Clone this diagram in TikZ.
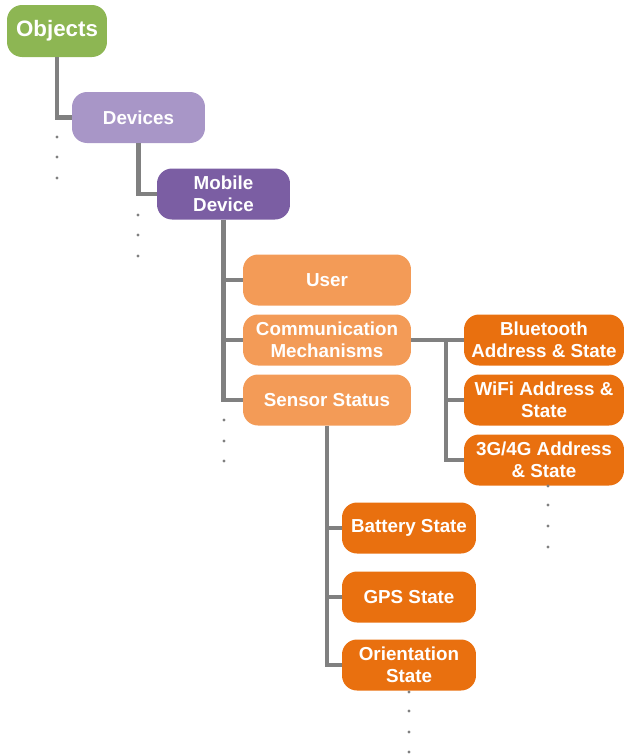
\documentclass[tikz,border=0pt]{standalone}
\usepackage{fontspec}
\setmainfont{Liberation Sans}

\definecolor{objgreen}{HTML}{8DB653}
\definecolor{devlilac}{HTML}{A896C7}
\definecolor{mobpurple}{HTML}{7B5EA3}
\definecolor{lightorange}{HTML}{F39B57}
\definecolor{darkorange}{HTML}{E9700F}
\definecolor{linegray}{HTML}{808080}

\begin{document}
\begin{tikzpicture}[x=0.02cm, y=-0.02cm,
  box/.style={rounded corners=0.3cm, text=white, align=center, inner sep=0pt,
    minimum height=1.02cm, font=\bfseries\fontsize{10.7}{12.8}\selectfont},
  link/.style={draw=linegray, line width=2.3pt},
  more/.style={fill=linegray}]

\useasboundingbox (0,0) rectangle (623,755);

% An object hierarchy

\node [box, fill=objgreen, minimum width=2cm, minimum height=1.04cm,
  font=\bfseries\fontsize{12.7}{15}\selectfont] (obj) at (57,31) {Objects};
\node [box, fill=devlilac, minimum width=2.66cm] (dev) at (138.5,117.5) {Devices};
\node [box, fill=mobpurple, minimum width=2.66cm] (mob) at (223.5,194) {Mobile\\Device};

\node [box, fill=lightorange, minimum width=3.36cm] (user) at (327,280) {User};
\node [box, fill=lightorange, minimum width=3.36cm] (comm) at (327,340) {Communication\\Mechanisms};
\node [box, fill=lightorange, minimum width=3.36cm] (sens) at (327,400) {Sensor Status};

\node [box, fill=darkorange, minimum width=3.2cm] (bt) at (544,340) {Bluetooth\\Address \& State};
\node [box, fill=darkorange, minimum width=3.2cm] (wifi) at (544,400) {WiFi Address \&\\State};
\node [box, fill=darkorange, minimum width=3.2cm] (cell) at (544,460) {3G/4G Address\\\& State};

\node [box, fill=darkorange, minimum width=2.68cm] (batt) at (409,528) {Battery State};
\node [box, fill=darkorange, minimum width=2.68cm] (gps) at (409,597) {GPS State};
\node [box, fill=darkorange, minimum width=2.68cm] (orient) at (409,665) {Orientation\\State};

% edges

\draw [link] (obj.south) |- (dev.west);
\draw [link] (dev.south) |- (mob.west);
\draw [link] (mob.south) |- (user.west);
\draw [link] (mob.south) |- (comm.west);
\draw [link] (mob.south) |- (sens.west);
\draw [link] (comm.east) -- (bt.west);
\coordinate (split) at (446,340);
\draw [link] (split) |- (wifi.west);
\draw [link] (split) |- (cell.west);
\draw [link] (sens.south) |- (batt.west);
\draw [link] (sens.south) |- (gps.west);
\draw [link] (sens.south) |- (orient.west);

% more to come

\foreach \y in {137,157,178} \fill [more] (57,\y) circle (1.6);
\foreach \y in {215,235,256} \fill [more] (138,\y) circle (1.6);
\foreach \y in {420,441,461} \fill [more] (224,\y) circle (1.6);
\foreach \y in {486,505,526,547} \fill [more] (548,\y) circle (1.6);
\foreach \y in {692,711,732,752} \fill [more] (409,\y) circle (1.6);

\end{tikzpicture}
\end{document}
